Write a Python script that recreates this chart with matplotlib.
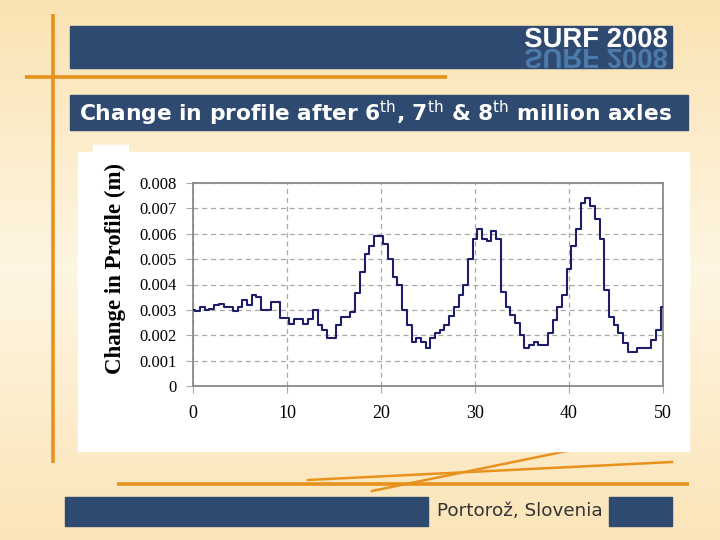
import numpy as np
import matplotlib
matplotlib.use("Agg")
import matplotlib.pyplot as plt
from matplotlib.patches import Rectangle, PathPatch
from matplotlib.textpath import TextPath
from matplotlib.font_manager import FontProperties
from matplotlib.transforms import Affine2D

# ---------------- data ----------------
distance = [i * 0.5 for i in range(101)]
profile_change = [
    0.0030, 0.00295, 0.0031, 0.0030, 0.00305, 0.0032, 0.00322, 0.0031, 0.0031, 0.00297,
    0.0031, 0.0034, 0.0032, 0.0036, 0.0035, 0.0030, 0.0030, 0.0033, 0.0033, 0.00267,
    0.00267, 0.00244, 0.00263, 0.00263, 0.00244, 0.00263, 0.0030, 0.0024, 0.0022, 0.0019,
    0.0019, 0.0024, 0.0027, 0.00273, 0.0029, 0.00365, 0.0045, 0.0052, 0.0055, 0.0059,
    0.0059, 0.0056, 0.0050, 0.0043, 0.0040, 0.0030, 0.0024, 0.00175, 0.0019, 0.00175,
    0.0015, 0.0019, 0.0021, 0.0022, 0.0024, 0.00275, 0.0031, 0.0036, 0.0040, 0.0050,
    0.0058, 0.0062, 0.0058, 0.0057, 0.0061, 0.0058, 0.0037, 0.0031, 0.0028, 0.0025,
    0.0020, 0.0015, 0.0016, 0.00175, 0.0016, 0.0016, 0.0021, 0.0026, 0.0031, 0.0036,
    0.0046, 0.0055, 0.0062, 0.0072, 0.0074, 0.0071, 0.0066, 0.0058, 0.0038, 0.0027,
    0.0024, 0.0021, 0.0017, 0.00135, 0.00135, 0.0015, 0.0015, 0.0015, 0.0018, 0.0022,
    0.0031,
]
x_ticks = [0, 10, 20, 30, 40, 50]
y_ticks = [0, 0.001, 0.002, 0.003, 0.004, 0.005, 0.006, 0.007, 0.008]
y_tick_labels = ["0", "0.001", "0.002", "0.003", "0.004", "0.005", "0.006", "0.007", "0.008"]
title_text = r"Change in profile after 6$^{\mathrm{th}}$, 7$^{\mathrm{th}}$ & 8$^{\mathrm{th}}$ million axles"
y_label = "Change in Profile (m)"
logo_text = "SURF 2008"
footer_text = "Portorož, Slovenia"

# ---------------- figure ----------------
W, H = 720, 540
fig = plt.figure(figsize=(7.2, 5.4), dpi=100)
bg = fig.add_axes([0, 0, 1, 1], zorder=0)
bg.axis("off")

# background gradient
ys = np.linspace(0, 1, 200)
top = np.array([250, 227, 178]) / 255
mid = np.array([254, 245, 226]) / 255
bot = np.array([251, 229, 184]) / 255
cols = np.where(ys[:, None] < 0.5,
                top + (mid - top) * (ys[:, None] / 0.5),
                mid + (bot - mid) * ((ys[:, None] - 0.5) / 0.5))
bg.imshow(cols[:, None, :], extent=[0, W, H, 0], aspect="auto", zorder=0)
bg.set_xlim(0, W)
bg.set_ylim(H, 0)

navy = "#2f4a70"
orange = "#e8921e"

# orange decorative lines
bg.plot([53, 53], [14, 463], color=orange, lw=2.6, zorder=1, solid_capstyle="butt")
bg.plot([25, 447], [77, 77], color=orange, lw=2.6, zorder=1, solid_capstyle="butt")
bg.plot([117, 689], [484, 484], color=orange, lw=2.6, zorder=1, solid_capstyle="butt")
bg.plot([308, 672], [480, 462], color=orange, lw=1.8, zorder=1)
bg.plot([372, 567], [491, 451], color=orange, lw=1.8, zorder=1)

# banners
bg.add_patch(Rectangle((70, 26), 602, 42, color=navy, zorder=2))
bg.add_patch(Rectangle((70, 95), 618, 35, color=navy, zorder=2))
bg.add_patch(Rectangle((65, 497), 363, 29, color=navy, zorder=2))
bg.add_patch(Rectangle((609, 497), 63, 29, color=navy, zorder=2))

# chart panel
bg.add_patch(Rectangle((78, 152), 611, 299, color="white", zorder=2))
bg.add_patch(Rectangle((93, 145), 35, 8, color="white", zorder=2))

renderer = fig.canvas.get_renderer()


def fit_text(t, target_w, axis="w"):
    fs = t.get_fontsize()
    for _ in range(3):
        bb = t.get_window_extent(renderer)
        cur = bb.width if axis == "w" else bb.height
        fs *= target_w / cur
        t.set_fontsize(fs)
    return t


# logo with reflection
fp = FontProperties(family="Liberation Sans", weight="bold")
tp = TextPath((0, 0), logo_text, size=1, prop=fp)
ext = tp.get_extents()
s = 142 / ext.width
x0 = 525 - ext.x0 * s
base = 47
p1 = Affine2D().scale(s, -s).translate(x0, base).transform_path(tp)
bg.add_patch(PathPatch(p1, color="white", lw=0, zorder=4))
p2 = Affine2D().scale(s, s).translate(x0, base + 2).transform_path(tp)
refl = PathPatch(p2, color="#4f80b2", lw=0, zorder=3, alpha=0.9)
bg.add_patch(refl)
clip = Rectangle((70, 26), 602, 42, transform=bg.transData)
refl.set_clip_path(clip)

# title
t = bg.text(79, 113, title_text, color="white", fontweight="bold",
            family="DejaVu Sans", fontsize=12, ha="left", va="center", zorder=4)
fit_text(t, 594)

# footer
ft = bg.text(437, 511, footer_text, color="#333333", family="DejaVu Sans",
             fontsize=11, ha="left", va="center", zorder=4)
fit_text(ft, 166)

# y label
yl = bg.text(115, 268, y_label, rotation=90, family="Liberation Serif",
             fontweight="bold", fontsize=12, ha="center", va="center", zorder=4)
fit_text(yl, 212, axis="h")

# ---------------- chart ----------------
ax = fig.add_axes([193 / W, 1 - 386 / H, 470 / W, 203 / H], zorder=3)
ax.set_facecolor("white")
ax.plot(distance, profile_change, drawstyle="steps-mid", color="#1d1d6a", lw=1.5, zorder=3)
ax.set_xlim(0, 50)
ax.set_ylim(0, 0.008)
ax.set_xticks(x_ticks)
ax.set_xticklabels([str(v) for v in x_ticks])
ax.set_yticks(y_ticks)
ax.set_yticklabels(y_tick_labels)
ax.grid(True, ls=(0, (4, 3)), color="#a8a8a8", lw=0.9)
for sp in ax.spines.values():
    sp.set_color("#8a8a8a")
    sp.set_linewidth(1.3)
ax.tick_params(direction="out", length=5, color="#a8a8a8")
ax.tick_params(axis="x", labelsize=13, pad=9)
ax.tick_params(axis="y", labelsize=12, pad=7)
for lab in ax.get_xticklabels() + ax.get_yticklabels():
    lab.set_family("Liberation Serif")

fig.savefig("out.png", dpi=100)
